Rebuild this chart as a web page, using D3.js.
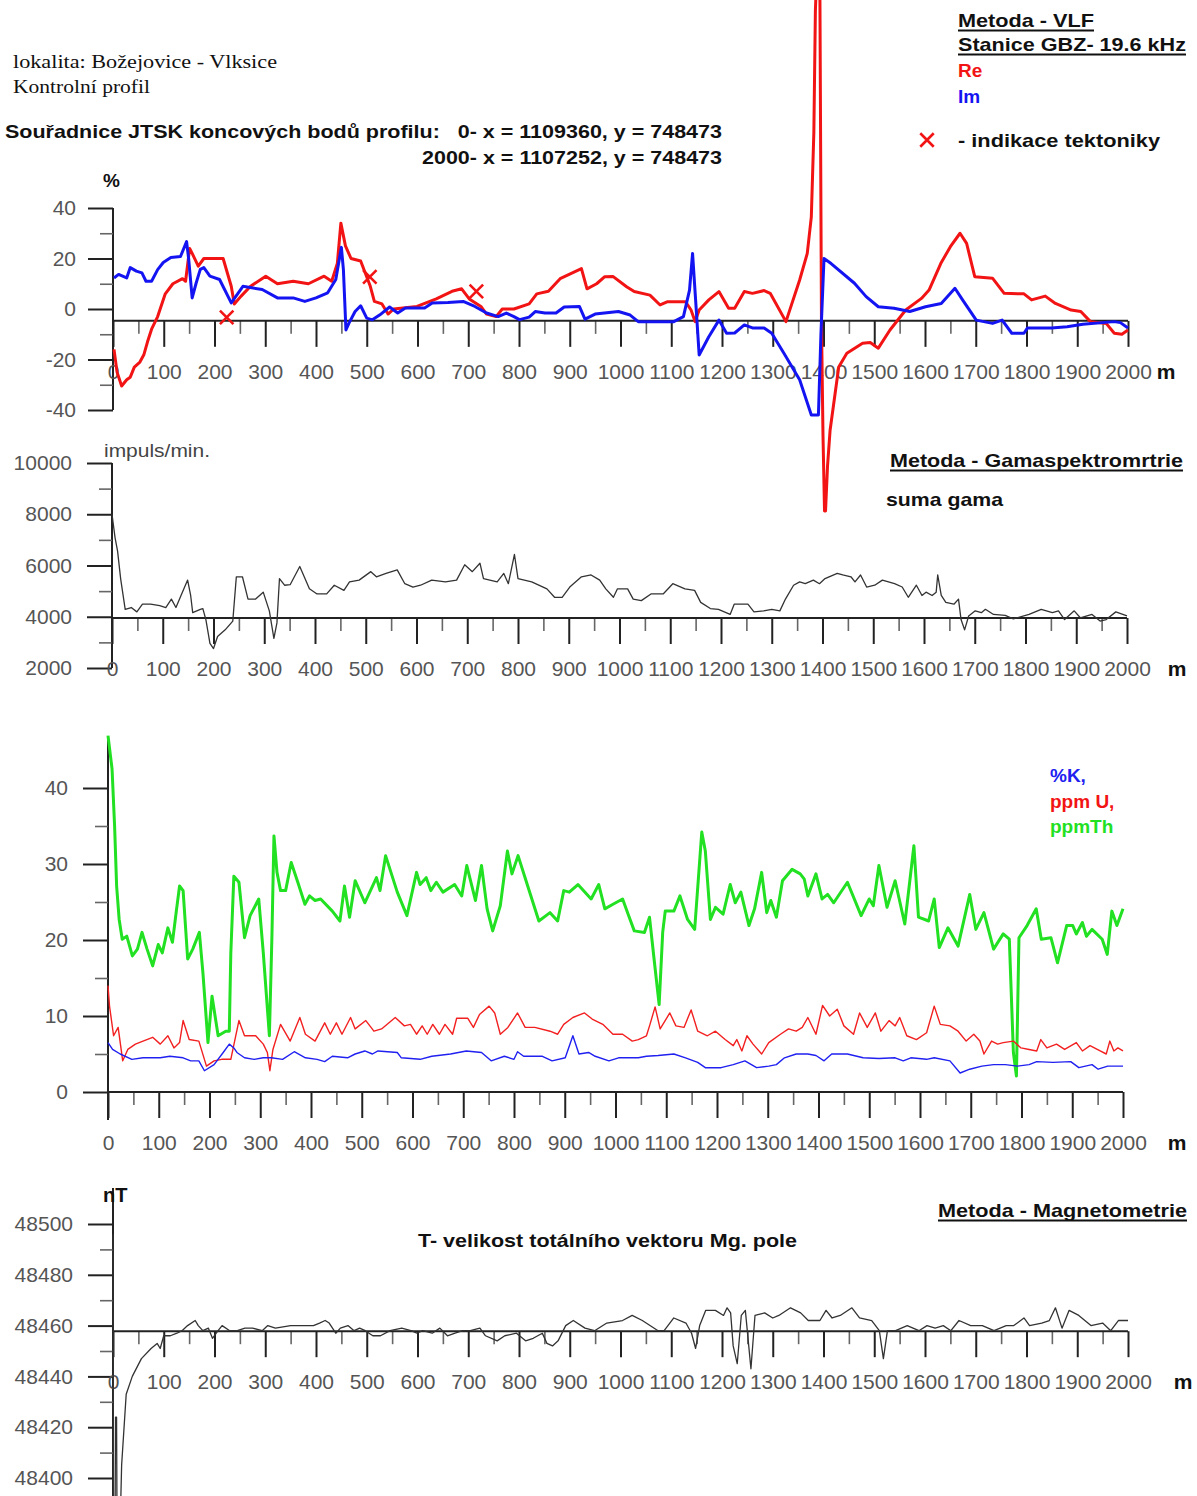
<!DOCTYPE html>
<html lang="cs">
<head>
<meta charset="UTF-8">
<title>Božejovice - Vlksice, kontrolní profil</title>
<style>
  body { margin: 0; background: #fff; }
  svg { display: block; font-family: "Liberation Sans", Arial, sans-serif; }
  .tick text { fill: #555; font-size: 21px; font-family: "Liberation Sans", Arial, sans-serif; }
  .major line { stroke: #222; stroke-width: 2; }
  .minor line { stroke: #666; stroke-width: 1.6; }
  .axis-line { stroke: #222; stroke-width: 2; }
  .series { fill: none; stroke-linejoin: round; }
  .re  { stroke: #f21414; stroke-width: 3; }
  .im  { stroke: #1414f2; stroke-width: 3; }
  .gam { stroke: #333; stroke-width: 1.3; }
  .th  { stroke: #22e022; stroke-width: 3; }
  .u   { stroke: #f22020; stroke-width: 1.4; }
  .k   { stroke: #2020f0; stroke-width: 1.4; }
  .mag { stroke: #333; stroke-width: 1.3; }
</style>
</head>
<body>
<svg id="chart" width="1197" height="1496"></svg>

<script src="https://cdn.jsdelivr.net/npm/d3@7"></script>
<script>
    // distance along profile [m]
    const xTicks = [0,100,200,300,400,500,600,700,800,900,1000,1100,1200,1300,1400,1500,1600,1700,1800,1900,2000];
    const xMinorTicks = [50,150,250,350,450,550,650,750,850,950,1050,1150,1250,1350,1450,1550,1650,1750,1850,1950];

    const vlfTicks = [-40,-20,0,20,40];
    const vlfMinor = [-30,-10,10,30];
    const gamTicks = [2000,4000,6000,8000,10000];
    const gamMinor = [3000,5000,7000,9000];
    const radTicks = [0,10,20,30,40];
    const radMinor = [5,15,25,35];
    const magTicks = [48400,48420,48440,48460,48480,48500];
    const magMinor = [48410,48430,48450,48470,48490];

    // VLF - Re / Im  [m, %]
    const vlfRe = [[2,-16],[8,-25],[17,-30.5],[27,-28],[34,-27],[42,-23],[53,-21],[61,-18],[68,-13],[76,-8],[88,-3],[103,6],[118,10],[137,12],[143,11],[151,24],[156,22],[168,17],[179,20],[191,20],[217,20],[233,9],[239,2],[252,5],[271,9],[301,13],[324,10],[355,11],[385,10],[416,13],[431,11],[442,18],[449,34],[458,25],[469,20],[488,19],[507,9],[515,3],[530,2],[542,-2],[553,0],[599,1],[637,4],[668,7],[687,8],[702,4],[725,1],[736,-2],[755,-3],[767,0],[790,0],[820,2],[835,6],[858,7],[881,12],[923,16],[934,8],[953,10],[969,12.8],[985,12.9],[1012,8.8],[1027,6.9],[1058,5.5],[1078,1.6],[1093,2.9],[1128,2.9],[1139,-0.4],[1147,-5],[1155,-0.4],[1174,3.6],[1194,6.9],[1213,0.3],[1225,0.3],[1244,6.9],[1260,6.2],[1283,7.3],[1295,6.2],[1326,-5],[1353,11.5],[1368,22],[1376,36.5],[1381,70],[1384,118],[1388,140],[1393,122],[1396,-5],[1399,-50],[1402,-80],[1404,-80],[1408,-62],[1413,-48],[1430,-23],[1446,-17.5],[1477,-13.6],[1492,-13.3],[1508,-15.5],[1531,-8.3],[1562,-0.4],[1593,4.2],[1608,7.5],[1631,18],[1650,24.7],[1669,30],[1682,26],[1698,12.8],[1733,12.2],[1756,6.2],[1795,6],[1810,3.6],[1837,5.1],[1857,2.2],[1888,-0.4],[1907,-1],[1926,-5],[1957,-5.7],[1973,-9.6],[1988,-10],[2000,-8.3]];
    const vlfIm = [[2,12.3],[11,13.7],[27,12.3],[34,16.4],[46,15],[57,14.3],[65,11],[76,11],[88,15.6],[99,18.4],[114,20.4],[133,20.8],[145,26.7],[149,20],[156,4.4],[164,10.4],[172,15.7],[179,16.4],[191,13],[210,11.7],[233,2.4],[256,9],[294,7.7],[324,4.4],[355,4.4],[378,3],[400,4.4],[423,6.4],[439,11.7],[450,24.4],[454,15.6],[459,-8.3],[465,-5.6],[477,-1],[488,1.3],[500,-3.6],[511,-4.3],[526,-2.3],[545,0.8],[561,-1.6],[576,0.4],[614,0.4],[629,2.4],[660,2.6],[690,3],[713,1],[736,-1.6],[759,-3],[775,-1.6],[790,-3],[801,-4.2],[820,-3.2],[832,-1],[851,-1.6],[873,-1.6],[889,0.8],[919,1],[930,-4],[950,-2],[996,-1],[1019,-2.4],[1035,-5],[1105,-5],[1124,-3],[1136,7.5],[1142,22],[1148,3.6],[1155,-18.2],[1174,-11],[1194,-4.4],[1209,-9.6],[1225,-9.5],[1244,-6.3],[1260,-7.5],[1283,-7.5],[1298,-9.6],[1322,-17.5],[1353,-28],[1376,-42],[1390,-42],[1395,-9.6],[1401,20],[1415,18],[1461,10.2],[1484,4.9],[1508,0.9],[1539,0.3],[1570,-1],[1601,0.9],[1632,2.2],[1659,8.2],[1674,3.6],[1701,-4.4],[1733,-5.7],[1752,-4.4],[1771,-9.6],[1795,-9.6],[1802,-7.5],[1849,-7.5],[1880,-7],[1911,-6],[1973,-5],[1985,-5.4],[2000,-7.5]];
    const tectonics = [[224,-3.3],[506,12.7],[716,7]];

    // suma gama [m, impuls/min]
    const gamma = [[0,8000],[6,7090],[11,6560],[17,5490],[26,4290],[38,4360],[49,4190],[60,4490],[76,4490],[94,4430],[106,4360],[117,4690],[126,4360],[136,4830],[149,5430],[155,4830],[159,4160],[174,4290],[179,4320],[185,3890],[193,2960],[200,2760],[208,3230],[223,3490],[238,3830],[245,5560],[257,5560],[268,4690],[283,4690],[298,4960],[310,4230],[319,3160],[325,3760],[330,5490],[340,5230],[351,5250],[370,5960],[389,5090],[404,4890],[423,4890],[438,5230],[457,5030],[468,5360],[487,5430],[510,5760],[521,5560],[540,5690],[562,5830],[577,5290],[593,5160],[608,5230],[630,5430],[657,5360],[679,5430],[695,6030],[710,5760],[725,6090],[732,5490],[759,5360],[772,5690],[781,5290],[793,6430],[800,5490],[827,5360],[857,5090],[872,4760],[887,4760],[902,5160],[925,5560],[944,5630],[961,5430],[973,5090],[988,4760],[996,5090],[1016,5090],[1027,4690],[1043,4630],[1062,4890],[1086,4890],[1105,5290],[1129,5090],[1148,5030],[1160,4560],[1179,4320],[1195,4290],[1218,4090],[1226,4490],[1253,4490],[1265,4190],[1284,4230],[1300,4290],[1316,4230],[1327,4690],[1343,5230],[1355,5360],[1366,5290],[1382,5430],[1394,5290],[1405,5490],[1429,5690],[1440,5630],[1456,5560],[1464,5360],[1475,5630],[1487,5160],[1503,5230],[1518,5430],[1542,5290],[1557,5160],[1569,4760],[1585,5230],[1596,4830],[1604,4960],[1616,4830],[1624,4960],[1627,5630],[1634,4830],[1643,4560],[1659,4490],[1668,4690],[1673,3890],[1680,3490],[1688,4030],[1701,4230],[1713,4160],[1721,4290],[1737,4090],[1760,4050],[1776,3920],[1807,4090],[1831,4290],[1853,4160],[1865,4230],[1877,3890],[1896,4230],[1908,3960],[1931,4090],[1947,3830],[1959,3890],[1978,4190],[2000,4030]];

    // %K, ppm U, ppm Th
    const thorium = [[0,46.9],[8,42.5],[13,35],[17,27.1],[22,22.7],[28,20.1],[37,20.5],[48,17.9],[58,18.8],[67,21],[77,18.8],[88,16.6],[99,19.4],[107,18.3],[118,21.6],[127,19.7],[135,24],[141,27.1],[148,26.5],[157,17.5],[167,18.8],[180,21],[187,15.7],[197,6.5],[205,12.6],[217,7.4],[232,8],[239,8],[242,18.3],[248,28.4],[258,27.6],[269,20.3],[280,23.2],[297,25.4],[306,18.3],[318,7.4],[323,20.5],[327,33.7],[333,28.9],[340,26.5],[350,26.5],[361,30.2],[374,27.6],[388,24.7],[397,25.8],[408,25.2],[419,25.4],[442,23.8],[457,22.5],[466,27.1],[476,23],[487,27.8],[506,24.9],[529,28.2],[536,26.5],[547,31.1],[570,26.3],[589,23.2],[608,28.9],[615,27.3],[627,28.2],[636,26.5],[647,27.6],[660,26.3],[683,27.3],[697,25.8],[707,29.8],[724,25.2],[736,29.8],[747,24.1],[758,21.2],[773,24.5],[787,31.7],[796,28.7],[808,31.1],[827,27.1],[849,22.5],[871,23.6],[886,22.5],[898,26.5],[909,26.3],[926,27.3],[952,25.4],[967,27.3],[979,24.1],[995,24.7],[1014,25.4],[1026,23.2],[1037,21.2],[1057,21],[1067,23],[1076,17.5],[1086,11.5],[1093,21],[1098,23.8],[1115,23.8],[1127,25.8],[1142,22.7],[1156,21.4],[1170,34.2],[1177,31.7],[1187,22.7],[1197,24.3],[1212,23.4],[1226,27.3],[1236,24.9],[1247,26.3],[1263,21.9],[1274,24.1],[1288,28.9],[1298,23.6],[1306,25.2],[1317,23],[1329,27.8],[1348,29.3],[1364,28.7],[1372,28],[1379,25.8],[1395,28.7],[1407,25.4],[1418,26],[1430,24.9],[1457,27.6],[1484,23.2],[1500,25.4],[1508,24.5],[1519,29.8],[1535,24.3],[1551,27.8],[1570,22.1],[1588,32.4],[1597,23],[1617,22.5],[1628,25.4],[1638,19],[1655,21.6],[1675,19.2],[1698,26],[1710,21.4],[1726,23.6],[1745,18.8],[1764,20.8],[1776,20.1],[1784,5.2],[1790,2.1],[1795,20.3],[1811,21.9],[1829,24.1],[1839,20.1],[1858,20.3],[1871,17],[1889,21.9],[1901,21.9],[1908,20.8],[1920,22.3],[1928,20.5],[1939,21.4],[1959,20.1],[1969,18.1],[1978,23.8],[1988,21.9],[2000,24.1]];
    const uranium = [[0,14],[3,11.3],[11,7.4],[20,8.5],[29,4.1],[39,5.6],[54,6.3],[69,6.7],[88,7.2],[103,6.3],[118,7.4],[130,5.8],[141,6.5],[148,9.4],[160,6.9],[179,6.7],[194,3.4],[209,4.1],[224,4.3],[242,4.3],[258,9.4],[269,7.4],[291,7.4],[306,6.3],[314,5.2],[319,2.8],[325,5.6],[340,8.9],[359,6.7],[378,9.8],[389,7.6],[408,6.7],[427,9.1],[438,7.6],[450,9.1],[461,7.6],[478,9.8],[487,8.3],[508,9.4],[524,8],[539,8.3],[566,9.8],[584,8.7],[596,8.9],[608,7.6],[619,8.7],[629,7.6],[640,8.9],[653,7.6],[664,8.9],[679,7.6],[687,9.7],[709,9.7],[720,8.5],[732,10.2],[751,11.3],[762,10.4],[773,7.6],[788,8.5],[807,10.4],[822,8.5],[841,8.5],[871,8],[886,7.6],[898,8.9],[916,9.8],[939,10.4],[954,9.6],[975,8.9],[995,7.6],[1014,7.6],[1033,6.7],[1045,6.9],[1061,7.4],[1068,8.9],[1078,11.2],[1088,8.3],[1107,10.4],[1119,8.7],[1135,8.5],[1149,10.8],[1162,8],[1181,7.4],[1197,8],[1216,6.9],[1232,6.1],[1239,6.9],[1249,5.4],[1259,7.4],[1271,6.3],[1288,5],[1302,6.5],[1325,7.6],[1341,8.3],[1356,8],[1368,8.5],[1379,9.8],[1395,7.6],[1408,11.4],[1422,10],[1437,10.9],[1450,8.7],[1469,7.6],[1481,10.4],[1496,8.5],[1512,10.4],[1523,8],[1539,9.4],[1551,8.7],[1560,9.8],[1574,7.4],[1593,6.9],[1613,7.8],[1628,11.3],[1640,8.9],[1659,8.7],[1675,8],[1691,6.7],[1706,7.6],[1718,6.7],[1726,5],[1741,6.7],[1753,6.3],[1764,6.5],[1784,6.7],[1799,5.8],[1815,5.6],[1830,5.4],[1838,6.9],[1850,5.8],[1869,6.3],[1885,5.6],[1908,6.5],[1920,5.4],[1935,6.1],[1955,5.4],[1967,5],[1974,6.7],[1982,5.4],[1990,5.8],[2000,5.4]];
    const potassium = [[0,6.5],[9,5.6],[24,5],[47,4.3],[69,4.5],[103,4.5],[122,4.7],[148,4.5],[163,4.1],[179,4.1],[190,2.8],[209,3.6],[227,5.2],[239,6.3],[248,5.8],[254,5.2],[269,4.5],[288,4.3],[306,4.5],[322,4.5],[344,4.3],[367,5.3],[389,4.5],[412,4.3],[427,4],[442,4.7],[472,4.5],[487,5],[506,5.4],[521,5],[532,5.4],[570,5.2],[578,4.5],[615,4.3],[638,4.7],[675,5],[706,5.4],[736,5.2],[755,4.1],[781,4.7],[800,4.3],[807,5.3],[819,4.7],[856,4.7],[875,4.1],[901,4.5],[916,7.4],[928,5],[947,5.2],[960,4.7],[987,4.1],[1006,4.5],[1045,4.5],[1061,4.7],[1084,4.8],[1115,5],[1138,4.5],[1162,3.9],[1177,3.2],[1208,3.2],[1232,3.6],[1255,4.1],[1278,3.2],[1302,3.4],[1317,3.6],[1333,4.5],[1356,5],[1379,5],[1395,4.8],[1411,4.1],[1426,5],[1457,5],[1488,4.5],[1519,4.4],[1551,4.5],[1567,4.1],[1582,4.5],[1613,4.3],[1628,4.5],[1659,4.1],[1679,2.5],[1698,3],[1722,3.4],[1745,3.6],[1768,3.6],[1792,3.4],[1815,3.6],[1830,4],[1862,3.9],[1897,4],[1913,3.2],[1939,3.6],[1951,3],[1970,3.4],[2000,3.4]];

    // T [nT]
    const magT = [[0,48496],[1,48380],[4,48380],[5,48424],[7,48424],[8,48380],[14,48380],[17,48405],[26,48433],[38,48440],[56,48447],[75,48451],[87,48453],[93,48451],[100,48456],[113,48456],[126,48457],[136,48458],[147,48460],[162,48462],[168,48460],[177,48458],[188,48459],[196,48455],[207,48458],[215,48460],[230,48458],[245,48458],[260,48459],[275,48459],[294,48458],[305,48460],[320,48459],[350,48460],[373,48460],[395,48460],[407,48461],[418,48462],[426,48461],[439,48457],[448,48459],[463,48460],[475,48458],[486,48459],[497,48458],[512,48456],[527,48456],[546,48458],[569,48459],[587,48458],[599,48457],[610,48458],[629,48457],[644,48459],[659,48456],[674,48457],[689,48458],[704,48458],[723,48459],[734,48456],[757,48454],[772,48456],[795,48457],[813,48454],[828,48455],[846,48457],[855,48453],[866,48452],[877,48454],[892,48460],[907,48462],[930,48459],[949,48458],[973,48461],[1004,48462],[1023,48464],[1043,48462],[1074,48458],[1086,48458],[1105,48463],[1129,48461],[1140,48457],[1148,48451],[1156,48460],[1168,48466],[1187,48466],[1203,48464],[1210,48467],[1217,48465],[1222,48452],[1230,48445],[1238,48464],[1246,48466],[1257,48443],[1265,48464],[1284,48465],[1300,48463],[1312,48464],[1335,48467],[1355,48465],[1370,48462],[1393,48462],[1405,48466],[1417,48463],[1433,48464],[1456,48467],[1471,48463],[1495,48462],[1510,48458],[1518,48447],[1526,48458],[1542,48458],[1565,48460],[1588,48458],[1604,48460],[1620,48459],[1636,48460],[1651,48458],[1667,48462],[1690,48460],[1713,48460],[1736,48458],[1760,48460],[1775,48460],[1795,48463],[1806,48460],[1830,48461],[1845,48462],[1857,48467],[1870,48459],[1884,48466],[1903,48464],[1927,48460],[1950,48461],[1966,48458],[1981,48462],[2000,48462]];

    const svg = d3.select('#chart');
    svg.append('rect').attr('width', 1197).attr('height', 1496).attr('fill', '#fff');

    const plain = d => String(d);   // no thousands separator, ASCII minus

    function makePanel(cfg) {
        const x = d3.scaleLinear().domain([0, 2000]).range(cfg.xRange);
        const y = d3.scaleLinear().domain(cfg.yDomain).range(cfg.yRange);
        const g = svg.append('g');
        const ay = y(cfg.axisAt);

        g.append('line').attr('class', 'axis-line')
            .attr('x1', x(0)).attr('x2', x(0)).attr('y1', cfg.yLine[0]).attr('y2', cfg.yLine[1]);

        g.append('g').attr('class', 'minor').attr('transform', `translate(${x(0)},0)`)
            .call(d3.axisLeft(y).tickValues(cfg.yMinor).tickSize(13).tickFormat(''));
        g.append('g').attr('class', 'major').attr('transform', `translate(${x(0)},0)`)
            .call(d3.axisLeft(y).tickValues(cfg.yTicks).tickSize(25).tickPadding(cfg.yPad).tickFormat(plain));

        g.append('g').attr('class', 'minor').attr('transform', `translate(0,${ay})`)
            .call(d3.axisBottom(x).tickValues(xMinorTicks).tickSize(13).tickFormat(''));
        g.append('g').attr('class', 'major').attr('transform', `translate(0,${ay})`)
            .call(d3.axisBottom(x).tickValues(xTicks).tickSize(26).tickPadding(17).tickFormat(plain));
        g.selectAll('.domain').remove();

        g.append('line').attr('class', 'axis-line')
            .attr('x1', x(0)).attr('x2', x(2000)).attr('y1', ay).attr('y2', ay);

        g.append('text').attr('x', cfg.mX).attr('y', ay + 58)
            .attr('text-anchor', 'middle').attr('font-size', 21).attr('font-weight', 'bold')
            .attr('fill', '#111').text('m');

        const line = d3.line().x(d => x(d[0])).y(d => y(d[1]));
        return { x, y, g, line };
    }

    function note(txt, x, y, o = {}) {
        const t = svg.append('text').attr('x', x).attr('y', y)
            .attr('font-size', o.size || 20)
            .attr('font-weight', o.weight || 'bold')
            .attr('fill', o.fill || '#111')
            .attr('text-anchor', o.anchor || 'start')
            .style('white-space', 'pre')
            .text(txt);
        if (o.family) t.attr('font-family', o.family);
        if (o.len) t.attr('textLength', o.len).attr('lengthAdjust', 'spacingAndGlyphs');
        if (o.underline) {
            const w = o.len || t.node().getComputedTextLength();
            const x0 = o.anchor === 'end' ? x - w : x;
            svg.append('line').attr('x1', x0).attr('x2', x0 + w)
                .attr('y1', y + 3.5).attr('y2', y + 3.5)
                .attr('stroke', '#111').attr('stroke-width', 2);
        }
        return t;
    }

    // ---------- VLF ----------
    const p1 = makePanel({ xRange: [113, 1128], yDomain: [-40, 40], yRange: [410, 208], axisAt: -4.7,
        yLine: [208, 410], yTicks: vlfTicks, yMinor: vlfMinor, yPad: 12, mX: 1166 });
    p1.g.append('path').datum(vlfRe).attr('class', 'series re').attr('d', p1.line);
    p1.g.append('path').datum(vlfIm).attr('class', 'series im').attr('d', p1.line);
    p1.g.selectAll('path.tect').data(tectonics).join('path').attr('class', 'tect')
        .attr('transform', d => `translate(${p1.x(d[0])},${p1.y(d[1])})`)
        .attr('d', d3.symbol(d3.symbolTimes, 120))
        .attr('fill', 'none').attr('stroke', '#f21414').attr('stroke-width', 2.6);

    // ---------- gamma ----------
    const p2 = makePanel({ xRange: [112, 1127], yDomain: [2000, 10000], yRange: [668, 463], axisAt: 3950,
        yLine: [463, 668], yTicks: gamTicks, yMinor: gamMinor, yPad: 15, mX: 1177 });
    p2.g.append('path').datum(gamma).attr('class', 'series gam').attr('d', p2.line);

    // ---------- K, U, Th ----------
    const p3 = makePanel({ xRange: [108, 1123], yDomain: [0, 40], yRange: [1092, 788], axisAt: 0,
        yLine: [740, 1120], yTicks: radTicks, yMinor: radMinor, yPad: 15, mX: 1177 });
    p3.g.append('path').datum(thorium).attr('class', 'series th').attr('d', p3.line);
    p3.g.append('path').datum(uranium).attr('class', 'series u').attr('d', p3.line);
    p3.g.append('path').datum(potassium).attr('class', 'series k').attr('d', p3.line);

    // ---------- magnetometry ----------
    const p4 = makePanel({ xRange: [113, 1128], yDomain: [48400, 48500], yRange: [1478, 1224], axisAt: 48457.8,
        yLine: [1188, 1496], yTicks: magTicks, yMinor: magMinor, yPad: 15, mX: 1183 });
    p4.g.append('path').datum(magT).attr('class', 'series mag').attr('d', p4.line);

    // ---------- header texts ----------
    const serif = '"Liberation Serif", "Times New Roman", serif';
    note('lokalita: Božejovice - Vlksice', 13, 68, { family: serif, size: 18, weight: 'normal', len: 264 });
    note('Kontrolní profil', 13, 93, { family: serif, size: 18, weight: 'normal', len: 137 });
    note('Souřadnice JTSK koncových bodů profilu:   0- x = 1109360, y = 748473', 5, 138, { size: 19, len: 717 });
    note('2000- x = 1107252, y = 748473', 722, 164, { size: 19, anchor: 'end', len: 300 });
    note('%', 103, 187, { size: 19 });

    note('Metoda - VLF', 958, 27, { size: 19, len: 136, underline: true });
    note('Stanice GBZ- 19.6 kHz', 958, 51, { size: 19, len: 228, underline: true });
    note('Re', 958, 77, { size: 19, fill: '#f21414' });
    note('Im', 958, 103, { size: 19, fill: '#1414f2' });
    svg.append('path').attr('transform', 'translate(927,140)')
        .attr('d', d3.symbol(d3.symbolTimes, 120))
        .attr('fill', 'none').attr('stroke', '#f21414').attr('stroke-width', 2.6);
    note('- indikace tektoniky', 958, 147, { size: 19, len: 202 });

    note('impuls/min.', 104, 457, { size: 19, weight: 'normal', fill: '#444', len: 106 });
    note('Metoda - Gamaspektromrtrie', 890, 467, { size: 19, len: 293, underline: true });
    note('suma gama', 886, 506, { size: 19, len: 117 });

    note('%K,', 1050, 782, { size: 19, fill: '#2020f0' });
    note('ppm U,', 1050, 808, { size: 19, fill: '#f21414' });
    note('ppmTh', 1050, 833, { size: 19, fill: '#22e022' });

    note('nT', 103, 1202, { size: 20 });
    note('Metoda - Magnetometrie', 938, 1217, { size: 19, len: 249, underline: true });
    note('T- velikost totálního vektoru Mg. pole', 418, 1247, { size: 19, len: 379 });
</script>
</body>
</html>
